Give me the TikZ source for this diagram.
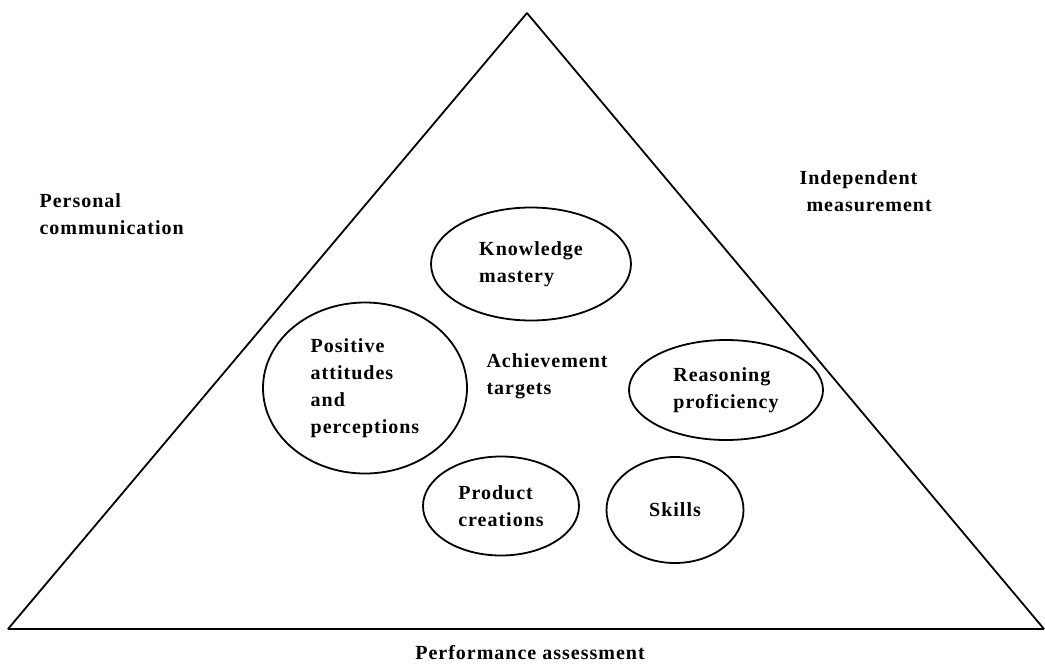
\documentclass[tikz,border=0pt]{standalone}
\usepackage{fontspec}
\setmainfont{Liberation Serif}[LetterSpace=5]
\usetikzlibrary{shapes.geometric}

\tikzset{
    target/.style={draw,ellipse,line width=1.8pt,inner sep=0pt,align=left,
        font=\fontsize{20}{27}\selectfont\bfseries},
    label/.style={align=left,font=\fontsize{20}{27}\selectfont\bfseries}
}

\begin{document}
\begin{tikzpicture}[x=1pt,y=-1pt]
\useasboundingbox (0,0) rectangle (1045,665);

% assessment triangle
\draw[line width=1.8pt,line join=bevel] (8,629) -- (527,13) -- (1044,629) -- cycle;

% the five kinds of target
\foreach \name/\x/\y/\w/\h/\txt in {know/531/264/200/113/{Knowledge\\mastery},
    attit/365/388/204/171/{Positive\\attitudes\\and\\perceptions},
    reason/726/390/194/100/{Reasoning\\proficiency},
    prod/501/506/156/99/{Product\\creations},
    skill/675/510/137/106/{Skills}}
{
    \node[target,minimum width=\w,minimum height=\h] (\name) at (\x,\y) {\txt};
}

\node[label,anchor=west] (ach) at (483,376) {Achievement\\targets};

% methods round the triangle
\node[label,anchor=west] (pers) at (36,214) {Personal\\communication};
\node[label,anchor=west] (indep) at (796,191) {Independent\\\hspace*{7pt}measurement};
\node[label] (perf) at (530,653) {Performance assessment};
\end{tikzpicture}
\end{document}
